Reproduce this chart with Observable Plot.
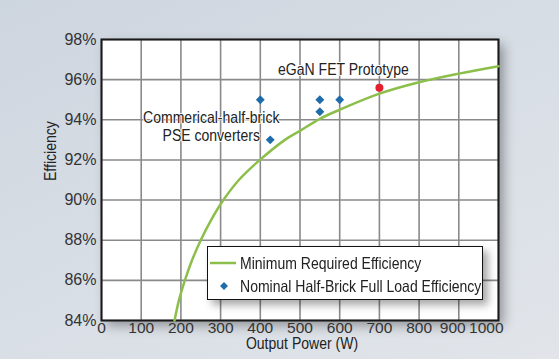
<!DOCTYPE html>
<html><head><meta charset="utf-8">
<script src="https://cdn.jsdelivr.net/npm/d3@7"></script>
<script src="https://cdn.jsdelivr.net/npm/@observablehq/plot@0.6"></script>
<style>
html,body{margin:0;padding:0;}
body{width:559px;height:359px;overflow:hidden;background:linear-gradient(155deg,#cdd5df 0%,#d8dee5 50%,#e1e5ea 100%);}
#wrap{position:relative;width:559px;height:359px;}
.legend{position:absolute;left:207px;top:246px;width:274px;height:52px;background:#fff;border:1.5px solid #111;box-shadow:5px 5px 8px rgba(0,0,0,0.35);font-family:"Liberation Sans",sans-serif;font-size:16.5px;color:#222;}
.legend span{display:inline-block;transform:scaleX(0.85);transform-origin:0 50%;}
</style></head><body><div id="wrap"></div>
<script>
// Minimum required efficiency curve (Output power W, efficiency %)
const curvePower = [184, 195, 210, 228, 250, 276, 307, 346, 399, 462, 500, 550, 600, 700, 800, 900, 1000];
const curveEff   = [84, 85, 86, 87, 88, 89, 90, 91, 92, 93, 93.45, 94.05, 94.5, 95.3, 95.87, 96.3, 96.67];
// Nominal half-brick full load efficiency points
const brickPower = [400, 425, 550, 550, 600];
const brickEff   = [95, 93, 95, 94.4, 95];
// eGaN FET prototype
const protoPower = [700];
const protoEff   = [95.6];
const xTicks = [0, 100, 200, 300, 400, 500, 600, 700, 800, 900, 1000];
const yTicks = [84, 86, 88, 90, 92, 94, 96, 98];
const legendLabels = ["Minimum Required Efficiency", "Nominal Half-Brick Full Load Efficiency"];
const protoLabel = "eGaN FET Prototype";
const brickLabel = "Commerical-half-brick\nPSE converters";
const xTitle = "Output Power (W)";
const yTitle = "Efficiency";

const green = "#8cbf4a", blue = "#1f6cab", red = "#e3202b";
const font = "'Liberation Sans',sans-serif";
const SQ = 0.85; // horizontal squeeze for the condensed label face

const curve = curvePower.map((p, i) => ({p, e: curveEff[i]}));
const bricks = brickPower.map((p, i) => ({p, e: brickEff[i]}));
const proto = protoPower.map((p, i) => ({p, e: protoEff[i]}));

const labelOpts = {fontSize: 16.5, fontFamily: font, fill: "#222"};
const xt = {x: d => d, frameAnchor: "bottom", text: d => String(d), dy: 12, fontSize: 15.5, fontFamily: font, fill: "#333"};

const plot = Plot.plot({
  width: 559, height: 359,
  marginLeft: 101, marginRight: 61, marginTop: 39, marginBottom: 39,
  style: {background: "transparent", overflow: "visible"},
  x: {domain: [0, 1000], axis: null},
  y: {domain: [84, 98], axis: null},
  marks: [
    Plot.frame({fill: "white", stroke: "none"}),
    Plot.gridX(xTicks, {stroke: "#8a8a8a", strokeWidth: 1.6, strokeOpacity: 1}),
    Plot.gridY(yTicks, {stroke: "#8a8a8a", strokeWidth: 1.6, strokeOpacity: 1}),
    Plot.frame({stroke: "#1a1a1a", strokeWidth: 2}),
    Plot.line(curve, {x: "p", y: "e", stroke: green, strokeWidth: 2.5, curve: "catmull-rom"}),
    Plot.dot(bricks, {x: "p", y: "e", symbol: "diamond2", r: 4, fill: blue, stroke: "none"}),
    Plot.dot(proto, {x: "p", y: "e", r: 4, fill: red, stroke: "none"}),
    Plot.text(proto, {...labelOpts, x: "p", y: "e", text: () => protoLabel, dx: -36, dy: -18, stroke: "white", strokeWidth: 2}),
    Plot.text(bricks.slice(1, 2), {...labelOpts, x: "p", y: "e", text: () => brickLabel, dx: -59, dy: -14, lineHeight: 1.1, stroke: "white", strokeWidth: 2}),
    // y tick labels
    Plot.text(yTicks, {x: 0, y: d => d, text: d => d + "%", textAnchor: "end", dx: -5, fontSize: 16, fontFamily: font, fill: "#333"}),
    // x tick labels (900 and 1000 are nudged left, as in the original)
    Plot.text(xTicks.filter(d => d < 900), xt),
    Plot.text(xTicks.filter(d => d === 900), {...xt, dx: -6}),
    Plot.text(xTicks.filter(d => d === 1000), {...xt, textAnchor: "end", dx: 5}),
    Plot.text([xTitle], {...labelOpts, frameAnchor: "bottom", text: d => d, dx: 2, dy: 28}),
    Plot.text([yTitle], {...labelOpts, frameAnchor: "left", text: d => d, rotate: -90, dx: -51, dy: 1})
  ]
});
const frames = plot.querySelectorAll('[aria-label="frame"]');
if (frames.length) frames[0].style.filter = "drop-shadow(5px 5px 6px rgba(0,0,0,0.35))";
const wrap = document.getElementById("wrap");
wrap.appendChild(plot);

// condense the word labels (the original uses a condensed face)
const wordLabels = new Set([protoLabel, brickLabel.replace(/\n/g, ""), xTitle, yTitle]);
plot.querySelectorAll("text").forEach(t => {
  if (!wordLabels.has(t.textContent)) return;
  const spans = t.querySelectorAll("tspan");
  const targets = spans.length ? Array.from(spans) : [t];
  targets.forEach(el => {
    const w = el.getComputedTextLength();
    el.setAttribute("textLength", (w * SQ).toFixed(1));
    el.setAttribute("lengthAdjust", "spacingAndGlyphs");
  });
});

const legend = document.createElement("div");
legend.className = "legend";
legendLabels.forEach((lab, i) => {
  const row = document.createElement("div");
  row.style.cssText = `position:absolute;left:0;top:${i ? 28 : 5}px;height:22px;display:flex;align-items:center;white-space:nowrap`;
  const sw = i
    ? `<svg width="32" height="22"><path d="M16 7 L20 11 L16 15 L12 11Z" fill="${blue}"/></svg>`
    : `<svg width="32" height="22"><line x1="2" x2="28" y1="11" y2="11" stroke="${green}" stroke-width="2.5"/></svg>`;
  row.innerHTML = sw + `<span>${lab}</span>`;
  legend.appendChild(row);
});
wrap.appendChild(legend);
</script></body></html>
